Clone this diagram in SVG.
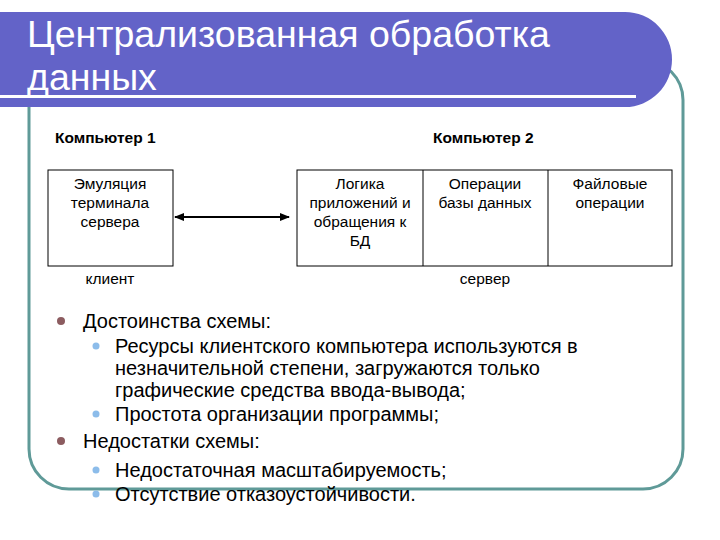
<svg xmlns="http://www.w3.org/2000/svg" width="720" height="540" viewBox="0 0 720 540">
<defs>
<style>
.t{font-family:"Liberation Sans",Arial,sans-serif;fill:#000}
.s{font-size:15.5px;text-anchor:middle}
.b{font-size:15.5px;font-weight:bold}
.l{font-size:20px}
.box{fill:#fff;stroke:#000;stroke-width:1}
.d1{fill:#8c5c60}
.d2{fill:#8cbcea}
</style>
<marker id="ah" viewBox="0 0 10 10" refX="9" refY="5" markerWidth="5" markerHeight="5" orient="auto-start-reverse">
<path d="M0,1 L10,5 L0,9 Z" fill="#000"/>
</marker>
</defs>
<rect width="720" height="540" fill="#fff"/>
<rect id="frame" x="29" y="60" width="654" height="429" rx="40" fill="none" stroke="#5f9a98" stroke-width="3"/>
<g id="header">
<path d="M0,12 H625 A47,47.5 0 0 1 625,107 H0 Z" fill="#6363c8"/>
<rect x="0" y="95" width="636" height="3" fill="#fff"/>
<text class="t" x="27" y="47" font-size="37.5" style="fill:#fff">Централизованная обработка</text>
<text class="t" x="27" y="90" font-size="37.5" style="fill:#fff">данных</text>
</g>
<text class="t b" x="55" y="143">Компьютер 1</text>
<text class="t b" x="433" y="143">Компьютер 2</text>
<g id="client">
<rect class="box" x="48" y="170" width="125" height="96"/>
<text class="t s" x="110" y="189">Эмуляция</text>
<text class="t s" x="110" y="208">терминала</text>
<text class="t s" x="110" y="227">сервера</text>
<text class="t s" x="110" y="284">клиент</text>
</g>
<g id="server">
<rect class="box" x="297" y="170" width="375" height="96"/>
<line x1="423" y1="170" x2="423" y2="266" stroke="#000"/>
<line x1="548" y1="170" x2="548" y2="266" stroke="#000"/>
<text class="t s" x="360" y="189">Логика</text>
<text class="t s" x="360" y="208">приложений и</text>
<text class="t s" x="360" y="227">обращения к</text>
<text class="t s" x="360" y="246">БД</text>
<text class="t s" x="485" y="189">Операции</text>
<text class="t s" x="485" y="208">базы данных</text>
<text class="t s" x="610" y="189">Файловые</text>
<text class="t s" x="610" y="208">операции</text>
<text class="t s" x="485" y="284">сервер</text>
</g>
<g id="connectors">
<line x1="175" y1="217" x2="289" y2="217" stroke="#000" stroke-width="2" marker-start="url(#ah)" marker-end="url(#ah)"/>
</g>
<g id="bullets">
<circle class="d1" cx="61" cy="321" r="4"/>
<text class="t l" x="83" y="328">Достоинства схемы:</text>
<circle class="d2" cx="96" cy="346" r="3.5"/>
<text class="t l" x="115" y="353">Ресурсы клиентского компьютера используются в</text>
<text class="t l" x="115" y="375">незначительной степени, загружаются только</text>
<text class="t l" x="115" y="397">графические средства ввода-вывода;</text>
<circle class="d2" cx="96" cy="414" r="3.5"/>
<text class="t l" x="115" y="421">Простота организации программы;</text>
<circle class="d1" cx="61" cy="441" r="4"/>
<text class="t l" x="83" y="448">Недостатки схемы:</text>
<circle class="d2" cx="96" cy="470" r="3.5"/>
<text class="t l" x="115" y="477">Недостаточная масштабируемость;</text>
<circle class="d2" cx="96" cy="494" r="3.5"/>
<text class="t l" x="115" y="501">Отсутствие отказоустойчивости.</text>
</g>
</svg>
